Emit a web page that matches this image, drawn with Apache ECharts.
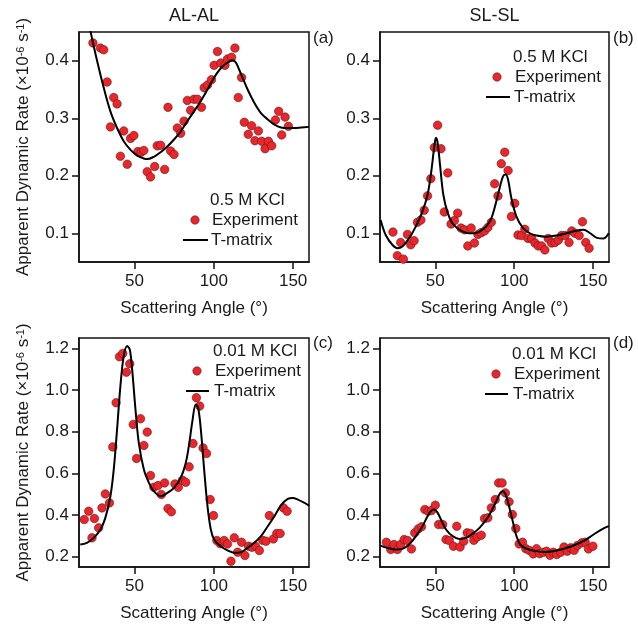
<!DOCTYPE html>
<html><head><meta charset="utf-8">
<script src="https://cdn.jsdelivr.net/npm/echarts@6/dist/echarts.min.js"></script>
<style>html,body{margin:0;padding:0;background:#fff}#c{width:638px;height:624px}</style>
</head><body><div id="c"></div>
<script>
// ---------- data ----------
const columnTitles = ['AL-AL', 'SL-SL'];
const panelTags = ['(a)', '(b)', '(c)', '(d)'];
const saltLabels = ['0.5 M KCl', '0.5 M KCl', '0.01 M KCl', '0.01 M KCl'];
const legendNames = ['Experiment', 'T-matrix'];
const xTicks = [50, 100, 150];
const yTicksTop = [0.1, 0.2, 0.3, 0.4];
const yTicksBottom = [0.2, 0.4, 0.6, 0.8, 1.0, 1.2];
const xTitle = 'Scattering Angle (°)';

// (a) AL-AL, 0.5 M KCl
const expAngleA = [23.8,28.5,30.6,32.7,34.8,36.9,39.0,41.1,43.2,45.4,47.5,49.6,52.1,54.2,55.9,58.0,60.1,62.7,64.3,66.5,69.0,71.1,72.8,74.9,77.0,79.1,81.2,83.3,85.4,87.5,89.7,92.2,93.9,96.0,98.5,100.2,102.3,104.4,107.0,108.6,111.2,113.3,115.4,117.5,119.2,121.7,123.8,125.9,128.1,130.2,132.3,134.4,136.5,138.8,140.9,142.8,144.9,147.0];
const expRateA  = [0.431,0.422,0.419,0.363,0.285,0.336,0.325,0.234,0.278,0.220,0.265,0.270,0.242,0.241,0.244,0.207,0.198,0.216,0.252,0.253,0.211,0.319,0.243,0.237,0.283,0.274,0.295,0.331,0.314,0.333,0.333,0.319,0.353,0.358,0.367,0.392,0.416,0.396,0.392,0.403,0.406,0.422,0.336,0.371,0.293,0.272,0.287,0.261,0.278,0.260,0.247,0.260,0.252,0.297,0.312,0.271,0.302,0.286];
const fitAngleA = [15,19,22.1,26.4,30.6,34.8,39.0,43.2,47.5,51.7,55.9,58.0,62.2,66.5,70.7,74.9,79.1,83.3,87.5,91.8,96.0,100.2,104.4,108.6,111.8,113.9,117.1,121.3,125.5,129.7,134.0,138.2,142.4,146.6,150.8,155.1,160];
const fitRateA  = [0.530,0.493,0.453,0.400,0.353,0.312,0.283,0.260,0.245,0.235,0.230,0.229,0.233,0.241,0.251,0.263,0.277,0.295,0.312,0.330,0.350,0.371,0.387,0.397,0.401,0.397,0.377,0.350,0.327,0.309,0.298,0.289,0.284,0.283,0.283,0.284,0.285];

// (b) SL-SL, 0.5 M KCl
const expAngleB = [23.2,26.0,28.1,29.8,32.4,34.5,36.6,38.7,40.9,43.0,45.1,47.2,49.4,51.5,53.6,55.7,57.9,60.0,62.1,64.2,66.3,68.5,70.6,72.7,74.8,77.0,79.1,81.2,83.3,85.5,87.6,89.7,91.8,94.0,96.1,98.2,100.3,102.4,104.6,106.7,108.8,111.0,113.1,115.2,117.3,119.4,121.5,123.7,125.8,127.9,130.0,132.2,134.7,136.4,138.5,141.1,143.2,145.3,147.4];
const expRateB  = [0.102,0.061,0.084,0.055,0.098,0.080,0.087,0.119,0.123,0.140,0.165,0.195,0.249,0.288,0.247,0.137,0.205,0.116,0.122,0.135,0.109,0.106,0.078,0.109,0.083,0.098,0.101,0.104,0.110,0.119,0.186,0.165,0.221,0.241,0.209,0.129,0.152,0.097,0.096,0.107,0.091,0.091,0.083,0.078,0.078,0.071,0.091,0.083,0.084,0.088,0.096,0.096,0.084,0.104,0.100,0.096,0.120,0.084,0.074];
const fitAngleB = [15.4,18.6,22.8,26.0,29.2,33.4,37.7,41.9,45.1,47.2,49.4,50.4,51.5,53.0,55.1,57.9,61.0,65.3,69.5,73.8,78.0,82.3,85.5,88.6,90.8,92.9,94.6,96.1,98.2,101.4,105.6,109.9,114.1,120.5,126.9,133.2,138.5,143.8,148.1,152.3,156.6,159.8];
const fitRateB  = [0.123,0.097,0.080,0.074,0.077,0.091,0.112,0.138,0.167,0.202,0.251,0.266,0.257,0.219,0.167,0.135,0.117,0.106,0.101,0.100,0.103,0.112,0.126,0.155,0.179,0.199,0.202,0.193,0.161,0.129,0.109,0.100,0.096,0.094,0.096,0.100,0.104,0.106,0.100,0.092,0.091,0.100];

// (c) AL-AL, 0.01 M KCl
const expAngleC = [18.3,21.1,23.2,24.7,27.4,29.5,31.6,34.2,36.3,38.4,40.5,42.6,44.9,47.0,49.2,51.3,53.8,55.9,58.0,60.1,62.2,64.8,66.9,69.0,71.1,73.2,75.5,77.6,80.2,82.3,84.4,86.9,89.0,91.1,93.2,95.4,97.7,99.8,101.9,104.0,106.5,108.6,110.8,112.9,115.0,117.5,119.6,121.9,124.0,126.2,128.7,130.8,132.9,135.0,137.5,139.7,141.8,143.9,146.2];
const expRateC  = [0.378,0.418,0.290,0.383,0.338,0.434,0.501,0.458,0.727,0.939,1.160,1.176,1.086,1.126,0.835,0.671,0.862,0.734,0.798,0.589,0.533,0.541,0.498,0.554,0.431,0.415,0.549,0.533,0.567,0.557,0.631,0.743,0.963,0.923,0.722,0.695,0.474,0.397,0.277,0.262,0.277,0.261,0.178,0.290,0.221,0.269,0.205,0.250,0.245,0.250,0.229,0.278,0.274,0.397,0.285,0.311,0.311,0.434,0.418];
const fitAngleC = [15.8,20.0,24.3,28.5,31.6,34.8,36.9,39.0,41.1,43.2,45.4,47.0,48.5,50.6,52.7,55.9,59.1,62.2,66.5,70.7,74.9,79.1,82.3,84.4,86.5,88.6,90.1,91.8,93.9,96.0,98.1,100.2,104.4,108.6,112.9,117.1,121.3,125.5,129.7,134.0,138.2,142.4,146.6,149.8,153.0,157.2,160];
const fitRateC  = [0.258,0.266,0.290,0.330,0.386,0.490,0.618,0.811,1.019,1.163,1.211,1.195,1.099,0.907,0.746,0.618,0.554,0.514,0.490,0.506,0.530,0.578,0.650,0.738,0.851,0.931,0.915,0.811,0.618,0.442,0.330,0.282,0.250,0.230,0.218,0.221,0.242,0.266,0.298,0.346,0.394,0.447,0.477,0.482,0.474,0.458,0.445];

// (d) SL-SL, 0.01 M KCl
const expAngleD = [19.0,21.8,23.9,26.0,28.1,30.3,32.4,34.9,37.0,39.2,41.3,43.4,45.5,47.7,50.0,52.1,54.7,56.8,58.9,61.5,63.6,65.7,68.0,70.2,72.3,74.4,76.5,79.1,81.2,83.3,85.5,88.0,90.1,92.3,94.4,96.7,98.8,101.0,103.1,105.2,107.3,109.4,112.0,114.1,116.2,118.4,120.5,122.6,124.7,126.9,129.4,131.5,133.6,135.8,137.9,140.0,142.8,144.9,147.0,149.8];
const expRateD  = [0.269,0.234,0.258,0.234,0.258,0.282,0.277,0.237,0.314,0.333,0.343,0.426,0.418,0.421,0.447,0.354,0.354,0.282,0.277,0.250,0.346,0.246,0.274,0.314,0.311,0.278,0.294,0.303,0.383,0.386,0.434,0.474,0.554,0.554,0.506,0.463,0.402,0.335,0.261,0.269,0.238,0.230,0.213,0.238,0.214,0.221,0.226,0.206,0.221,0.210,0.221,0.246,0.226,0.242,0.230,0.253,0.266,0.269,0.237,0.250];
const fitAngleD = [15.4,19.6,24.9,29.2,33.4,37.7,41.9,45.1,47.2,49.4,51.5,53.6,56.8,61.0,65.3,69.5,73.8,78.0,82.3,85.5,88.6,91.2,92.9,94.6,96.7,99.3,101.4,103.9,107.7,112.0,118.4,124.7,131.1,137.5,143.8,150.2,156.6,159.8];
const fitRateD  = [0.253,0.242,0.234,0.237,0.258,0.298,0.346,0.394,0.418,0.426,0.410,0.378,0.330,0.298,0.285,0.290,0.311,0.338,0.378,0.418,0.466,0.506,0.514,0.498,0.442,0.362,0.298,0.258,0.238,0.229,0.222,0.226,0.237,0.253,0.274,0.306,0.335,0.346];

// ---------- layout / style ----------
const FONT = '"Liberation Sans", Arial, Helvetica, sans-serif';
const TXT = '#1a1a1a';
const RED = '#e8262b';
const zip = (a, b) => a.map((v, i) => [v, b[i]]);
const exps = [[expAngleA, expRateA], [expAngleB, expRateB], [expAngleC, expRateC], [expAngleD, expRateD]];
const fits = [[fitAngleA, fitRateA], [fitAngleB, fitRateB], [fitAngleC, fitRateC], [fitAngleD, fitRateD]];

const grids = [
  {left: 79, top: 32, width: 230, height: 230},
  {left: 380, top: 32, width: 229, height: 230},
  {left: 79, top: 338, width: 230, height: 229},
  {left: 380, top: 338, width: 229, height: 229}
];
const yRanges = [[0.05, 0.45], [0.05, 0.45], [0.15, 1.25], [0.15, 1.25]];
const yTickSets = [yTicksTop, yTicksTop, yTicksBottom, yTicksBottom];
const legendPos = [
  {x: 210, y: 200, mx: 195, lx1: 183, lx2: 208},
  {x: 513, y: 57, mx: 497, lx1: 486, lx2: 510},
  {x: 213, y: 351, mx: 197, lx1: 186, lx2: 209},
  {x: 512, y: 354, mx: 496, lx1: 485, lx2: 508}
];
const tagPos = [[313, 38], [613, 38], [313, 343], [613, 343]];

const axisLineStyle = {color: '#111', width: 1.5};
const yTitle = 'Apparent Dynamic Rate (×10{sup|-6} s{sup|-1})';

const option = {
  animation: false,
  backgroundColor: '#fff',
  grid: grids.map(g => Object.assign({show: true, borderColor: '#111', borderWidth: 1.5, backgroundColor: 'transparent'}, g)),
  xAxis: grids.map((g, i) => ({
    gridIndex: i, type: 'value', min: 15, max: 160,
    splitLine: {show: false},
    axisLine: {show: true, lineStyle: axisLineStyle},
    axisTick: {show: true, length: 7, inside: false, lineStyle: axisLineStyle, customValues: xTicks},
    axisLabel: {customValues: xTicks, fontSize: 17, fontFamily: FONT, color: TXT, margin: 11},
    name: xTitle, nameLocation: 'middle', nameGap: 38,
    nameTextStyle: {fontSize: 17, fontFamily: FONT, color: TXT}
  })),
  yAxis: grids.map((g, i) => ({
    gridIndex: i, type: 'value', min: yRanges[i][0], max: yRanges[i][1],
    splitLine: {show: false},
    axisLine: {show: true, lineStyle: axisLineStyle},
    axisTick: {show: true, length: 7, inside: false, lineStyle: axisLineStyle, customValues: yTickSets[i]},
    axisLabel: {customValues: yTickSets[i], fontSize: 17, fontFamily: FONT, color: TXT, margin: 10,
      formatter: v => Number(v).toFixed(1)},
    name: (i % 2 === 0) ? yTitle : '', nameLocation: 'middle', nameGap: 47,
    nameTextStyle: {fontSize: 17, fontFamily: FONT, color: TXT,
      rich: {sup: {fontSize: 11, fontFamily: FONT, color: TXT, verticalAlign: 'top'}}}
  })),
  series: []
};

for (let i = 0; i < 4; i++) {
  option.series.push({
    type: 'scatter', name: legendNames[0], xAxisIndex: i, yAxisIndex: i,
    data: zip(exps[i][0], exps[i][1]), symbol: 'circle', symbolSize: 8.5,
    itemStyle: {color: RED, borderColor: '#6a1a1a', borderWidth: 0.6, opacity: 1}, z: 2
  });
  option.series.push({
    type: 'line', name: legendNames[1], xAxisIndex: i, yAxisIndex: i,
    data: zip(fits[i][0], fits[i][1]), showSymbol: false, smooth: 0.35, clip: true,
    lineStyle: {color: '#000', width: 2}, z: 3
  });
}

const graphics = [];
columnTitles.forEach((t, c) => {
  graphics.push({type: 'text', x: c === 0 ? 194 : 494.5, y: 16,
    style: {text: t, fontSize: 18, fontFamily: FONT, fill: TXT, align: 'center', verticalAlign: 'middle'}});
});
for (let i = 0; i < 4; i++) {
  const p = legendPos[i];
  graphics.push({type: 'text', x: tagPos[i][0], y: tagPos[i][1],
    style: {text: panelTags[i], fontSize: 17, fontFamily: FONT, fill: TXT, align: 'left', verticalAlign: 'middle'}});
  graphics.push({type: 'text', x: p.x, y: p.y,
    style: {text: saltLabels[i], fontSize: 17, fontFamily: FONT, fill: TXT, align: 'left', verticalAlign: 'middle'}});
  graphics.push({type: 'circle', shape: {cx: p.mx, cy: p.y + 20, r: 4.2},
    style: {fill: RED, stroke: '#6a1a1a', lineWidth: 0.6}});
  graphics.push({type: 'text', x: p.x + 2, y: p.y + 20,
    style: {text: legendNames[0], fontSize: 17, fontFamily: FONT, fill: TXT, align: 'left', verticalAlign: 'middle'}});
  graphics.push({type: 'line', shape: {x1: p.lx1, y1: p.y + 40, x2: p.lx2, y2: p.y + 40},
    style: {stroke: '#000', lineWidth: 2}});
  graphics.push({type: 'text', x: p.x + 1, y: p.y + 40,
    style: {text: legendNames[1], fontSize: 17, fontFamily: FONT, fill: TXT, align: 'left', verticalAlign: 'middle'}});
}
option.graphic = graphics;

const chart = echarts.init(document.getElementById('c'), null, {renderer: 'canvas'});
chart.setOption(option);
</script>
</body></html>
